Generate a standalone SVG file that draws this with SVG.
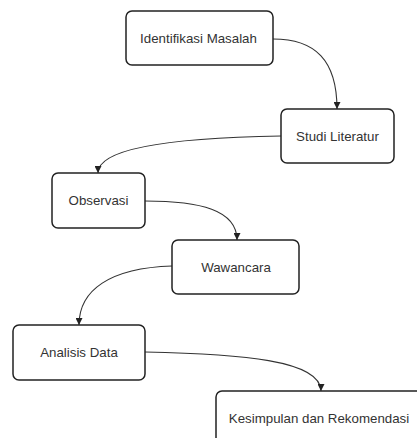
<svg xmlns="http://www.w3.org/2000/svg" width="417" height="438" viewBox="0 0 417 438">
<defs>
<style>
.box{fill:#fff;stroke:#222;stroke-width:1.5}
.lbl{font-family:"Liberation Sans",Arial,sans-serif;font-size:13.3px;fill:#333;text-anchor:middle}
.con{fill:none;stroke:#333;stroke-width:1.1}
</style>
<marker id="arr" viewBox="0 0 10 10" refX="10" refY="5" markerWidth="7" markerHeight="7" orient="auto" markerUnits="userSpaceOnUse">
<path d="M0,0 L10,5 L0,10 Z" fill="#222"/>
</marker>
</defs>
<rect width="417" height="438" fill="#fff"/>
<g id="connectors">
<path class="con" d="M273,39 C315,39 337,60 337,109" marker-end="url(#arr)"/>
<path class="con" d="M281,136 C160,138 98,150 98,173" marker-end="url(#arr)"/>
<path class="con" d="M145,201 C200,201 237,210 237,240" marker-end="url(#arr)"/>
<path class="con" d="M172,266 C110,268 79,290 79,325" marker-end="url(#arr)"/>
<path class="con" d="M145,352 C240,354 321,360 321,391" marker-end="url(#arr)"/>
</g>
<g id="n1"><rect class="box" x="126" y="11" width="147" height="54" rx="6"/><text class="lbl" x="198.5" y="42.5">Identifikasi Masalah</text></g>
<g id="n2"><rect class="box" x="281" y="109" width="113" height="54" rx="6"/><text class="lbl" x="337.5" y="140.5">Studi Literatur</text></g>
<g id="n3"><rect class="box" x="52" y="173" width="93" height="55" rx="6"/><text class="lbl" x="98.5" y="205">Observasi</text></g>
<g id="n4"><rect class="box" x="172" y="240" width="127" height="54" rx="6"/><text class="lbl" x="236" y="271.5">Wawancara</text></g>
<g id="n5"><rect class="box" x="13" y="325" width="132" height="55" rx="6"/><text class="lbl" x="79" y="357">Analisis Data</text></g>
<g id="n6"><rect class="box" x="216" y="391" width="212" height="56" rx="6"/><text class="lbl" x="319" y="423">Kesimpulan dan Rekomendasi</text></g>
</svg>
